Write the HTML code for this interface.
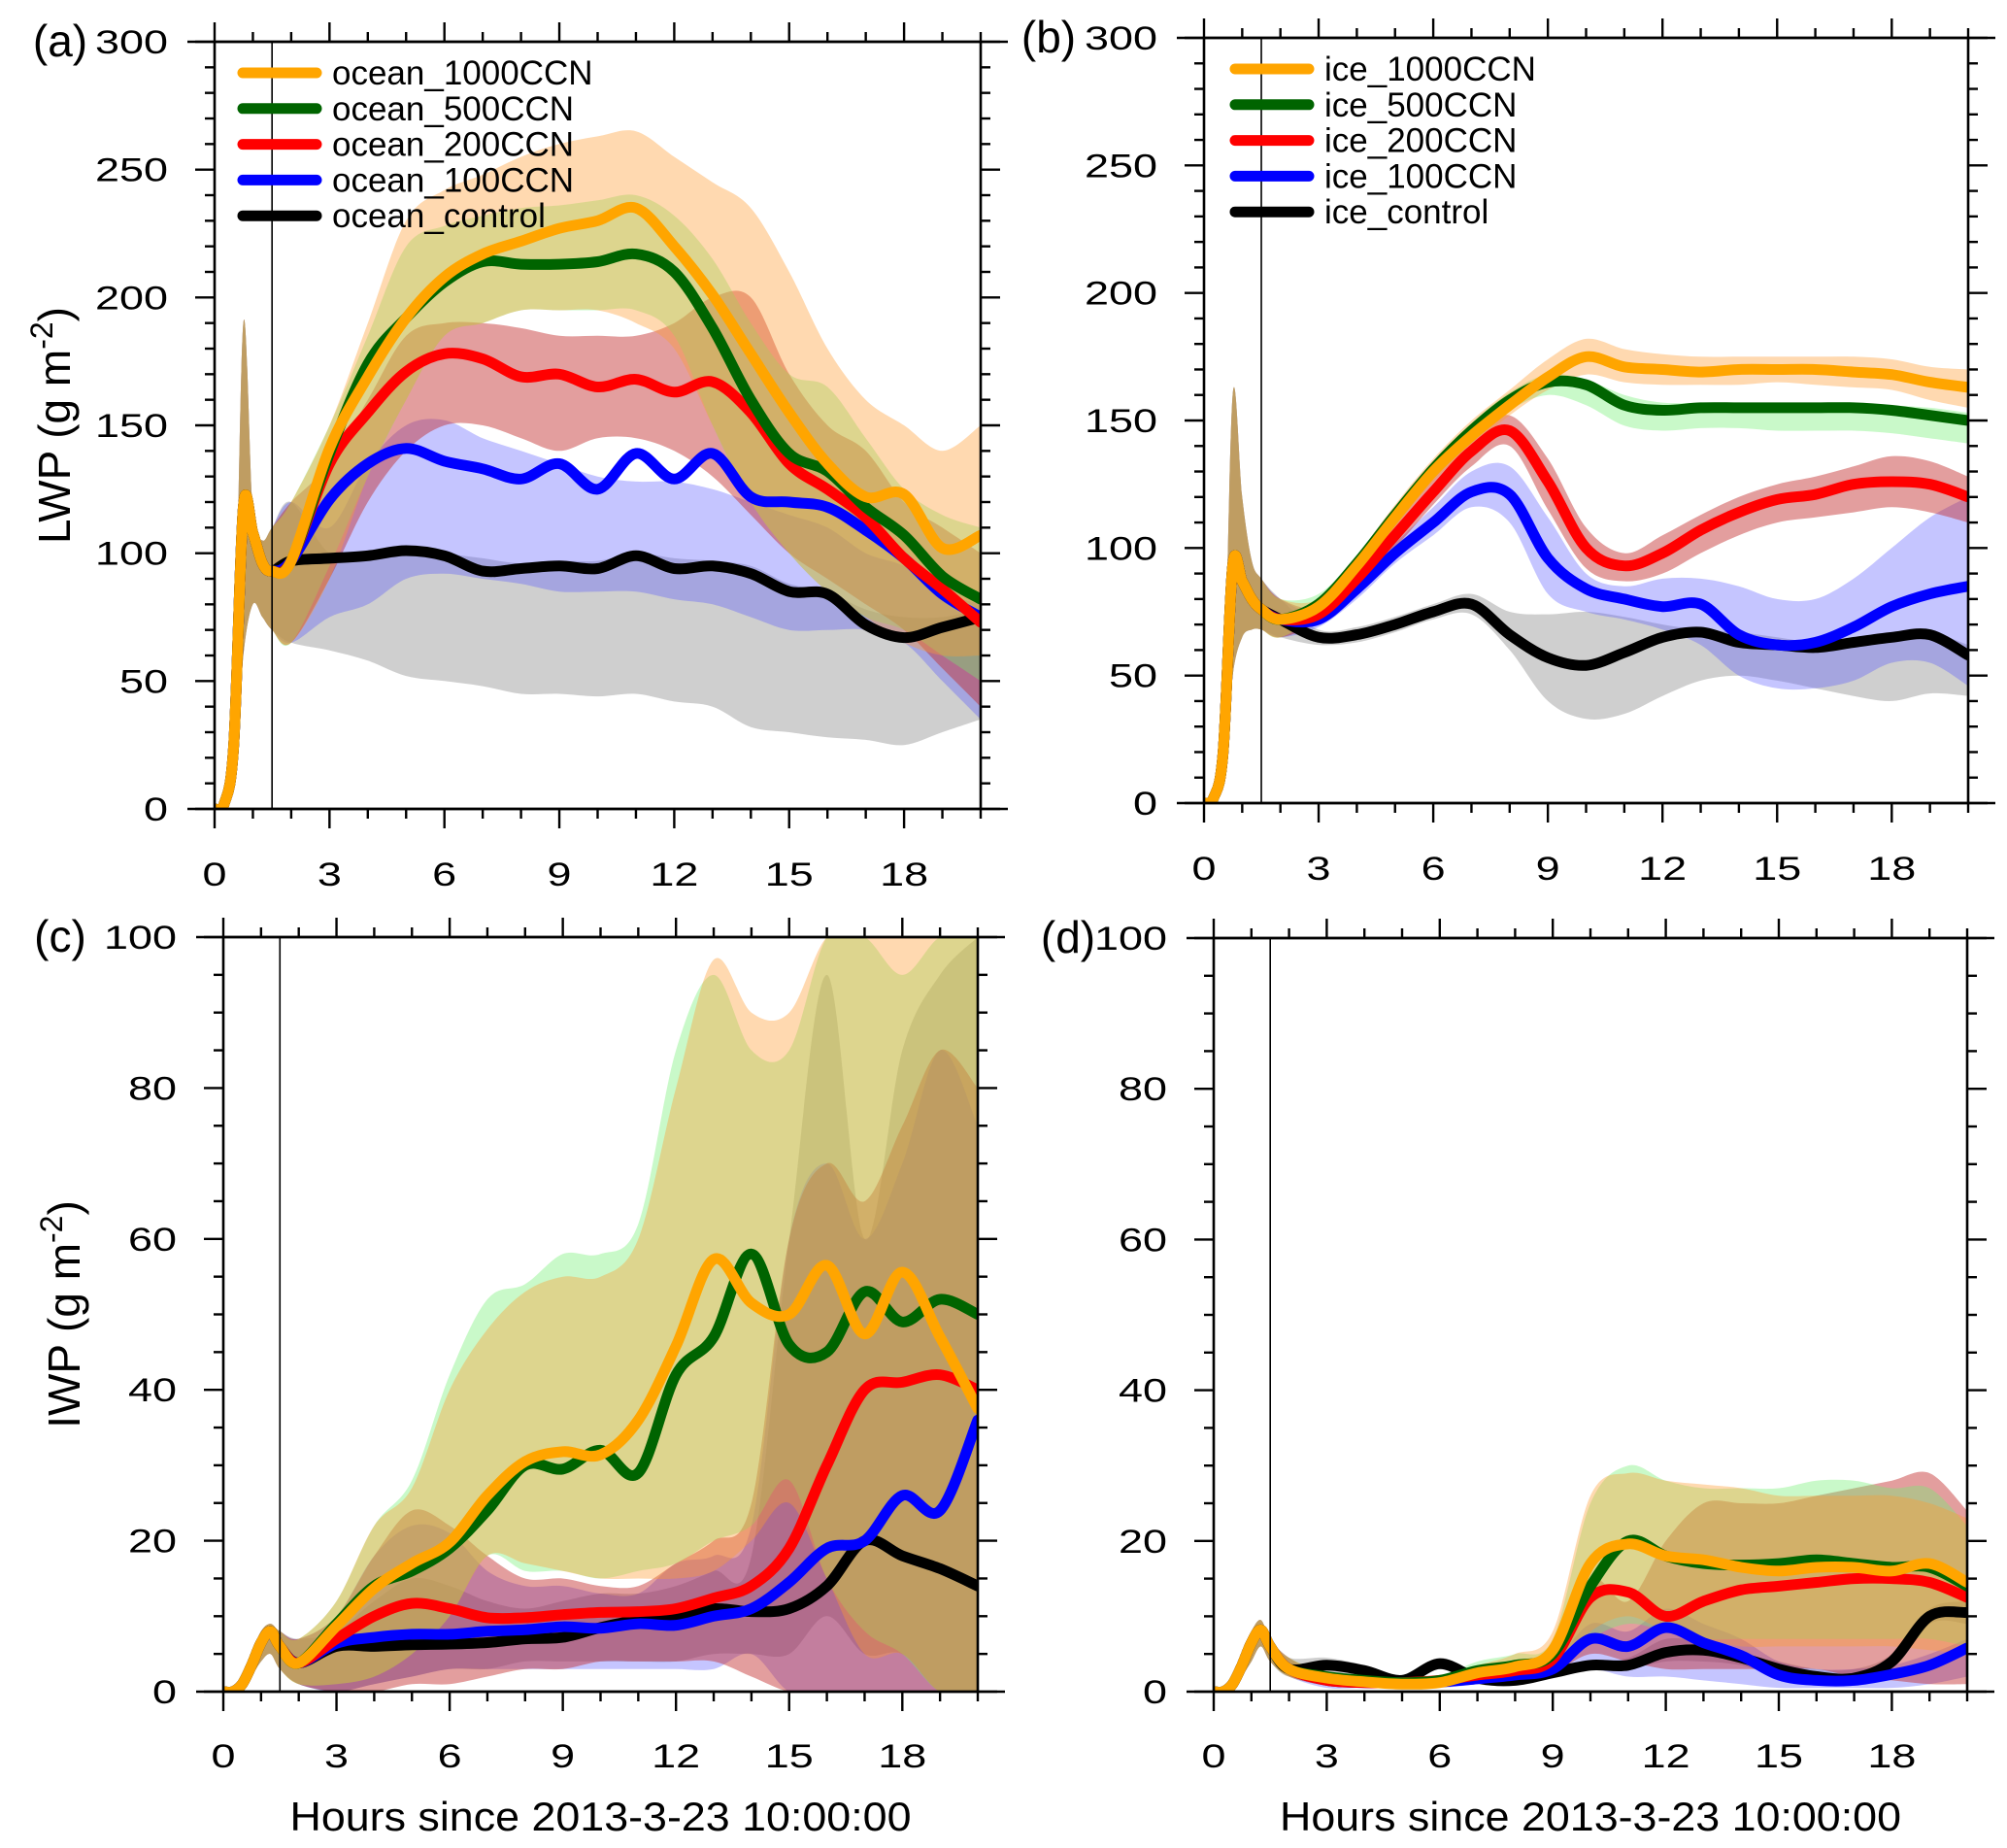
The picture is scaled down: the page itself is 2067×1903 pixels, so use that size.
<!DOCTYPE html>
<html><head><meta charset="utf-8">
<style>
html,body{margin:0;padding:0;background:#fff;}
svg{display:block;font-family:"Liberation Sans",Arial,sans-serif;}
</style></head>
<body>
<svg id="fig" width="2067" height="1903" viewBox="0 0 2067 1903" xmlns="http://www.w3.org/2000/svg"></svg>
<script>
// ---- shared time axis (hours) ----
const T = [0,0.25,0.5,0.75,1,1.25,1.5,2,3,4,5,6,7,8,9,10,11,12,13,14,15,16,17,18,19,20];
const xTicks = [0,3,6,9,12,15,18];

// ---- panel (a) LWP ocean ----
const a_orange = [0,2,25,118,108,96,93,97,141,169,192,208,217,222,227,230,235,220,201,178,155,135,122,123,102,107];
const a_green  = [0,2,25,118,108,96,93,97,139,174,192,206,214,213,213,214,217,210,188,160,139,132,118,107,91,82];
const a_red    = [0,2,25,118,108,96,93,97,135,155,171,178,176,169,170,165,168,163,167,155,135,125,114,98,86,73];
const a_blue   = [0,2,25,118,108,96,93,97,121,135,141,136,133,129,135,125,139,129,139,122,120,118,109,98,84,75];
const a_black  = [0,2,25,118,108,96,93,97,98,99,101,99,93,94,95,94,99,94,95,92,85,84,72,67,71,75];
const a_orange_hi = [0,3,40,190,115,105,110,120,150,190,230,242,248,255,260,263,265,255,245,235,210,180,160,150,140,150];
const a_orange_lo = [0,0,10,60,80,75,70,65,90,130,160,185,190,195,195,195,190,180,150,120,100,85,75,65,60,60];
const a_green_hi  = [0,3,40,190,115,105,110,120,150,185,220,228,232,235,236,238,240,232,215,190,170,165,145,125,115,110];
const a_green_lo  = [0,0,10,60,80,75,70,65,95,130,160,185,190,195,195,195,195,185,150,120,100,85,75,70,60,50];
const a_red_hi    = [0,3,40,190,115,105,110,120,135,160,185,190,190,188,185,185,185,190,200,200,170,150,140,120,110,100];
const a_red_lo    = [0,0,10,60,80,75,70,65,90,120,140,150,150,145,140,145,145,140,130,115,100,90,80,70,55,40];
const a_blue_hi   = [0,3,40,190,115,105,110,120,110,135,150,152,145,140,135,130,128,128,125,120,115,110,100,95,85,80];
const a_blue_lo   = [0,0,10,60,80,75,70,65,75,80,90,92,90,88,85,85,85,82,80,75,70,70,70,65,50,35];
const a_black_hi  = [0,3,40,190,115,105,110,120,100,100,102,100,98,96,97,97,100,98,97,95,88,85,78,75,75,78];
const a_black_lo  = [0,0,10,60,80,75,70,65,62,58,52,50,48,45,45,44,45,42,40,32,30,28,27,25,30,35];

// ---- panel (b) LWP ice ----
const b_orange = [0,2,20,93,87,80,76,72,77,93,112,130,144,156,167,175,171,170,169,170,170,170,169,168,165,163];
const b_green  = [0,2,20,93,87,80,76,72,78,94,113,131,146,158,165,164,156,154,155,155,155,155,155,154,152,150];
const b_red    = [0,2,20,93,87,80,76,72,74,88,105,122,138,146,126,100,93,98,107,114,119,121,125,126,125,120];
const b_blue   = [0,2,20,93,87,80,76,72,72,84,98,110,122,121,96,84,80,77,78,66,62,63,69,77,82,85];
const b_black  = [0,2,20,93,87,80,76,72,65,66,70,75,78,66,57,54,59,65,67,63,62,61,63,65,66,58];
const b_orange_hi = [0,3,30,160,120,95,88,80,80,97,117,135,150,162,174,182,178,176,175,175,175,175,175,174,171,170];
const b_orange_lo = [0,0,10,50,65,68,68,65,74,89,108,126,140,152,162,168,165,164,164,164,165,164,163,162,158,155];
const b_green_hi  = [0,3,30,160,120,95,88,80,82,97,116,134,149,161,168,166,160,157,157,157,157,157,157,156,155,153];
const b_green_lo  = [0,0,10,50,65,68,68,65,74,90,109,127,142,154,160,156,148,146,147,147,146,146,146,145,143,141];
const b_red_hi    = [0,3,30,160,120,95,88,80,77,92,110,127,143,152,135,108,98,105,113,120,125,128,132,136,134,128];
const b_red_lo    = [0,0,10,50,65,68,68,65,71,84,100,117,132,140,115,92,87,90,98,105,110,112,114,116,114,110];
const b_blue_hi   = [0,3,30,160,120,95,88,80,75,88,102,116,130,132,112,90,85,88,88,85,80,80,88,100,112,120];
const b_blue_lo   = [0,0,10,50,65,68,68,65,69,80,94,105,116,110,82,75,72,68,62,50,45,45,48,55,55,46];
const b_black_hi  = [0,3,30,160,120,95,88,80,68,69,73,78,82,75,74,75,73,70,68,67,65,63,64,66,67,62];
const b_black_lo  = [0,0,10,50,65,68,68,65,62,63,67,72,74,60,40,33,35,42,48,50,48,45,42,40,43,42];

// ---- panel (c) IWP ocean ----
const c_orange = [0,0,1,3.5,6.5,8,6,3.8,8.7,13.7,17,19.8,26,30.5,31.8,31.4,36,45.8,57.3,51.5,50,56.5,47.4,55.6,47,37.5];
const c_green  = [0,0,1,3.5,6.5,8,6,3.8,9,14,16,19,24,30,29.5,32,29,42,47,58,46,45,53,49,52,50];
const c_red    = [0,0,1,3.5,6.5,8,6,3.8,7,10,11.7,11,9.8,9.8,10.2,10.5,10.6,11,12.4,14,19,30,40,41,42,40];
const c_blue   = [0,0,1,3.5,6.5,8,6,3.8,6.4,7.2,7.6,7.6,8,8.2,8.6,8.4,9,8.8,10,11,14.5,19,20,26,24,36];
const c_black  = [0,0,1,3.5,6.5,8,6,3.8,6,6,6.2,6.3,6.5,7,7.2,8.5,9.5,10,11,10.6,11,14,20,18,16.3,14];
const c_orange_hi = [0,0,2,5,8,9,8,7,12,22,27,40,48,53,55,55,60,80,97,90,90,100,100,100,100,100];
const c_orange_lo = [0,0,0,2,4,5,3,1,1,2,5,10,18,17,16,15,15,15,16,20,25,15,5,5,0,0];
const c_green_hi  = [0,0,2,5,8,9,8,7,12,22,28,42,52,54,58,58,62,85,95,85,85,100,100,95,100,100];
const c_green_lo  = [0,0,0,2,4,5,3,1,1,2,5,10,18,16,16,15,16,17,20,22,28,15,8,5,0,0];
const c_red_hi    = [0,0,2,5,8,9,8,7,10,18,24,22,18,15,15,14,14,17,20,25,60,70,65,75,85,80];
const c_red_lo    = [0,0,0,2,4,5,3,1,0,0,1,1,2,3,3,4,4,4,4,2,0,0,0,0,0,0];
const c_blue_hi   = [0,0,2,5,8,9,8,7,10,18,22,21,16,14,14,13,13,17,18,22,60,70,60,70,85,75];
const c_blue_lo   = [0,0,0,2,4,5,3,1,0,1,2,3,3,3,3,3,3,3,3,5,0,0,0,0,0,0];
const c_black_hi  = [0,0,2,5,8,9,8,7,8,12,15,14,12,11,12,13,13,14,16,18,60,95,60,85,95,100];
const c_black_lo  = [0,0,0,2,4,5,3,1,0,1,2,3,3,4,4,4,4,4,5,5,5,10,5,5,0,0];

// ---- panel (d) IWP ice ----
const d_orange = [0,0,1,3.5,6.5,8.2,6,3,1.8,1.3,1,1.2,2.5,3.3,5.5,17,19.6,18,17.5,16.5,16,16.5,16.5,16,17,14.5];
const d_green  = [0,0,1,3.5,6.5,8.2,6,3,2,1.5,1.2,1.5,2.8,3.5,5,14,20,18,17,16.8,17,17.5,17,16.5,16.5,14];
const d_red    = [0,0,1,3.5,6.5,8.2,6,3,1.5,1.2,1.2,1.5,2.2,2.8,4.3,12.5,13.2,10,12,13.5,14,14.5,15,15,14.5,12.5];
const d_blue   = [0,0,1,3.5,6.5,8.2,6,3,1.5,1.2,1.2,1.3,1.7,2.2,3,7,6,8.5,6.5,4.8,2.2,1.5,1.5,2.3,3.5,5.8];
const d_black  = [0,0,1,3.5,6.5,8.2,6,3,3.5,2.8,1.5,3.7,1.8,1.5,2.5,3.5,3.5,5.2,5.5,4.5,3,2,1.8,4,10,10.5];
const d_orange_hi = [0,0,2,5,8,9.5,7,4.5,2.5,2,1.5,2,3.5,5,8,26,29,28,27.5,27,26,26,26,26,25,23];
const d_orange_lo = [0,0,0,2,4,6,4,2,1,0.8,0.6,0.8,1.5,2,3,8,10,8,7,6,6,6,6,6,5.5,5];
const d_green_hi  = [0,0,2,5,8,9.5,7,4.5,2.5,2,1.5,2,4,5,7,25,30,28,27,27,27,28,28,27,27,22];
const d_green_lo  = [0,0,0,2,4,6,4,2,1,0.8,0.6,0.8,1.5,2,3,7,9,8,7,7,7,7,7,7,7,6];
const d_red_hi    = [0,0,2,5,8,9.5,7,4.5,2,1.8,1.5,2,3,4,6,15,12,20,25,25,25,26,27,28,29,24];
const d_red_lo    = [0,0,0,2,4,6,4,2,0.8,0.6,0.5,0.6,1,1.5,2.5,5,4,3,3,3,3,3,2,1.5,1,1];
const d_blue_hi   = [0,0,2,5,8,9.5,7,4.5,2,1.8,1.5,1.8,2.5,3,4,9,8,11,9,7,4,3,3,3.5,5,7];
const d_blue_lo   = [0,0,0,2,4,6,4,2,0.5,0.5,0.5,0.5,1,1.5,2,3,2,2,1.5,1,0.5,0.5,0.5,0.5,1,2];
const d_black_hi  = [0,0,2,5,8,9.5,7,4.5,4.5,3.5,2,4.5,2.5,2,3,4,4.5,7,6.5,5,4,3,3,5,11,12];
const d_black_lo  = [0,0,0,2,4,6,4,2,2.5,2,1,3,1,1,2,3,3,4,4,3.5,2,1.5,1.5,3,9,9];

const aLegend = ["ocean_1000CCN","ocean_500CCN","ocean_200CCN","ocean_100CCN","ocean_control"];
const bLegend = ["ice_1000CCN","ice_500CCN","ice_200CCN","ice_100CCN","ice_control"];

const NS = "http://www.w3.org/2000/svg";
const svg = document.getElementById('fig');
function mk(tag, attrs, parent){
  const e = document.createElementNS(NS, tag);
  for (const k in attrs) e.setAttribute(k, attrs[k]);
  (parent||svg).appendChild(e);
  return e;
}
const LINE_COL = {orange:"#ffa500", green:"#006400", red:"#ff0000", blue:"#0000ff", black:"#000000"};
const BAND_COL = {orange:["#ff9a30",0.38], green:["#70f070",0.38], red:["#c02828",0.45], blue:["#5050ff",0.33], black:["#a0a0a0",0.5]};

function smoothPath(pts){
  let d = "M"+pts[0][0].toFixed(1)+","+pts[0][1].toFixed(1);
  for (let i=0;i<pts.length-1;i++){
    const p0=pts[Math.max(0,i-1)], p1=pts[i], p2=pts[i+1], p3=pts[Math.min(pts.length-1,i+2)];
    const c1x=p1[0]+(p2[0]-p0[0])/6, c1y=p1[1]+(p2[1]-p0[1])/6;
    const c2x=p2[0]-(p3[0]-p1[0])/6, c2y=p2[1]-(p3[1]-p1[1])/6;
    d += " C"+c1x.toFixed(1)+","+c1y.toFixed(1)+" "+c2x.toFixed(1)+","+c2y.toFixed(1)+" "+p2[0].toFixed(1)+","+p2[1].toFixed(1);
  }
  return d;
}

function panel(cfg){
  const g = mk('g',{});
  
  
  const X = t => cfg.x0 + (cfg.x20-cfg.x0)*t/20;
  const Y = v => cfg.yb + (cfg.yt-cfg.yb)*v/cfg.ymax;
  const clipId = 'clip-'+cfg.id;
  const cp = mk('clipPath',{id:clipId}, g);
  mk('rect',{x:cfg.x0,y:cfg.yt,width:cfg.x20-cfg.x0,height:cfg.yb-cfg.yt}, cp);
  const plot = mk('g',{'clip-path':'url(#'+clipId+')'}, g);
  const order = ['black','blue','red','green','orange'];
  order.forEach(s=>{
    const hi = cfg.data[s+'_hi'], lo = cfg.data[s+'_lo'];
    const top = T.map((t,i)=>[X(t),Y(hi[i])]);
    const bot = T.map((t,i)=>[X(t),Y(lo[i])]).reverse();
    let d = smoothPath(top) + " L" + smoothPath(bot).slice(1) + " Z";
    const p = mk('path',{d:d, fill:BAND_COL[s][0], 'fill-opacity':BAND_COL[s][1], stroke:'none'}, plot);
    
    
  });
  const vl = mk('line',{x1:X(1.5),x2:X(1.5),y1:cfg.yt,y2:cfg.yb,stroke:'#000','stroke-width':1.6}, g);
  
  
  order.forEach(s=>{
    const v = cfg.data[s];
    const pts = T.map((t,i)=>[X(t),Y(v[i])]);
    const p = mk('path',{d:smoothPath(pts), fill:'none', stroke:LINE_COL[s], 'stroke-width':11, 'stroke-linejoin':'round','stroke-linecap':'round'}, plot);
    
    
  });
  const fr = mk('rect',{x:cfg.x0,y:cfg.yt,width:cfg.x20-cfg.x0,height:cfg.yb-cfg.yt,fill:'none',stroke:'#000','stroke-width':2.6}, g);
  
  
  for (let t=0;t<=20;t++){
    const major = xTicks.includes(t), L = major?20:10, x = X(t);
    mk('line',{x1:x,x2:x,y1:cfg.yb,y2:cfg.yb+L,stroke:'#000','stroke-width':2.4}, g);
    mk('line',{x1:x,x2:x,y1:cfg.yt,y2:cfg.yt-L,stroke:'#000','stroke-width':2.4}, g);
  }
  mk('line',{x1:cfg.x0-28,x2:cfg.x20+28,y1:cfg.yt,y2:cfg.yt,stroke:'#000','stroke-width':2.6}, g);
  mk('line',{x1:cfg.x0-28,x2:cfg.x20+28,y1:cfg.yb,y2:cfg.yb,stroke:'#000','stroke-width':2.6}, g);
  xTicks.forEach(t=>{
    const s = String(t);
    const tx = mk('text',{x:X(t),y:cfg.xlabY,'font-size':34,'text-anchor':'middle',textLength:25*s.length,lengthAdjust:'spacingAndGlyphs'}, g);
    tx.textContent = s;
    
    
  });
  for (let v=0; v<=cfg.ymax+1e-9; v+=cfg.yMinor){
    const major = Math.abs(v/cfg.yMajor - Math.round(v/cfg.yMajor))<1e-6, L = major?20:10, y = Y(v);
    mk('line',{x1:cfg.x0,x2:cfg.x0-L,y1:y,y2:y,stroke:'#000','stroke-width':2.4}, g);
    mk('line',{x1:cfg.x20,x2:cfg.x20+L,y1:y,y2:y,stroke:'#000','stroke-width':2.4}, g);
    if (major){
      const s = String(Math.round(v));
      const ty = mk('text',{x:cfg.x0-48,y:y+12,'font-size':34,'text-anchor':'end',textLength:25*s.length,lengthAdjust:'spacingAndGlyphs'}, g);
      ty.textContent = s;
      
      
    }
  }
  const pl = mk('text',{x:cfg.labX,y:cfg.yt+15,'font-size':46,'text-anchor':'middle'}, g);
  pl.textContent = '('+cfg.id+')';
  
  
  if (cfg.ytitle){
    const yt = mk('text',{x:0,y:0,'font-size':46,'text-anchor':'middle',transform:'translate('+cfg.ytitleX+','+((cfg.yt+cfg.yb)/2)+') rotate(-90)'}, g);
    yt.innerHTML = cfg.ytitle+' (g m<tspan dy="-18" font-size="32">-2</tspan><tspan dy="18">)</tspan>';
    
    
  }
  if (cfg.xtitle){
    const xt = mk('text',{x:(cfg.x0+cfg.x20)/2,y:cfg.yb+143,'font-size':42,'text-anchor':'middle',textLength:640,lengthAdjust:'spacingAndGlyphs'}, g);
    xt.textContent = 'Hours since 2013-3-23 10:00:00';
    
    
  }
  if (cfg.legend){
    const lg = mk('g',{}, g);
    
    
    ['orange','green','red','blue','black'].forEach((s,i)=>{
      const y = cfg.legY + i*cfg.legDy;
      const e = mk('g',{}, lg);
      
      
      mk('line',{x1:cfg.legX,x2:cfg.legX+76,y1:y,y2:y,stroke:LINE_COL[s],'stroke-width':11,'stroke-linecap':'round'}, e);
      const t = mk('text',{x:cfg.legX+92,y:y+12,'font-size':35}, e);
      t.textContent = cfg.legend[i];
    });
  }
}
const D = {
  a:{orange:a_orange,green:a_green,red:a_red,blue:a_blue,black:a_black,orange_hi:a_orange_hi,orange_lo:a_orange_lo,green_hi:a_green_hi,green_lo:a_green_lo,red_hi:a_red_hi,red_lo:a_red_lo,blue_hi:a_blue_hi,blue_lo:a_blue_lo,black_hi:a_black_hi,black_lo:a_black_lo},
  b:{orange:b_orange,green:b_green,red:b_red,blue:b_blue,black:b_black,orange_hi:b_orange_hi,orange_lo:b_orange_lo,green_hi:b_green_hi,green_lo:b_green_lo,red_hi:b_red_hi,red_lo:b_red_lo,blue_hi:b_blue_hi,blue_lo:b_blue_lo,black_hi:b_black_hi,black_lo:b_black_lo},
  c:{orange:c_orange,green:c_green,red:c_red,blue:c_blue,black:c_black,orange_hi:c_orange_hi,orange_lo:c_orange_lo,green_hi:c_green_hi,green_lo:c_green_lo,red_hi:c_red_hi,red_lo:c_red_lo,blue_hi:c_blue_hi,blue_lo:c_blue_lo,black_hi:c_black_hi,black_lo:c_black_lo},
  d:{orange:d_orange,green:d_green,red:d_red,blue:d_blue,black:d_black,orange_hi:d_orange_hi,orange_lo:d_orange_lo,green_hi:d_green_hi,green_lo:d_green_lo,red_hi:d_red_hi,red_lo:d_red_lo,blue_hi:d_blue_hi,blue_lo:d_blue_lo,black_hi:d_black_hi,black_lo:d_black_lo}
};
panel({id:'a',x0:221,x20:1010,yt:43,yb:833,ymax:300,yMajor:50,yMinor:10,xlabY:912,labX:62,data:D.a,ytitle:'LWP',ytitleX:72,legend:aLegend,legX:250,legY:75,legDy:36.8});
panel({id:'b',x0:1240,x20:2027,yt:39,yb:827,ymax:300,yMajor:50,yMinor:10,xlabY:906,labX:1080,data:D.b,legend:bLegend,legX:1272,legY:71,legDy:36.8});
panel({id:'c',x0:230,x20:1007,yt:965,yb:1742,ymax:100,yMajor:20,yMinor:5,xlabY:1820,labX:62,data:D.c,ytitle:'IWP',ytitleX:82,xtitle:true});
panel({id:'d',x0:1250,x20:2026,yt:966,yb:1742,ymax:100,yMajor:20,yMinor:5,xlabY:1820,labX:1100,data:D.d,xtitle:true});
</script>
</body></html>
